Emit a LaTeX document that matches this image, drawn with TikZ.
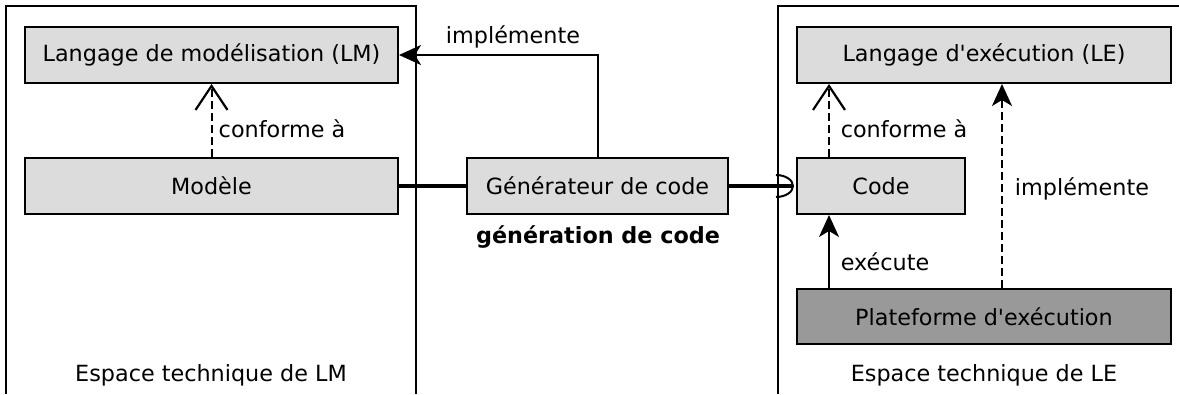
\documentclass[tikz,border=0pt]{standalone}
\usepackage{fontspec}
\setmainfont{DejaVu Sans}
\usetikzlibrary{arrows.meta}
\definecolor{boxgray}{HTML}{DCDCDC}
\definecolor{platgray}{HTML}{999999}
\begin{document}
\begin{tikzpicture}[x=1pt,y=-1pt,
  every node/.style={font=\fontsize{22.3}{26}\selectfont},
  boxnode/.style={draw, line width=2pt, fill=boxgray, minimum height=56pt, inner sep=0pt},
  lbl/.style={anchor=base, inner sep=0pt},
  frameline/.style={line width=2pt},
  conf/.style={line width=2pt, dash pattern=on 8pt off 4pt, -{Straight Barb[length=24pt,width=32pt,line width=2.2pt]}},
  solidarr/.style={line width=2pt, -{Stealth[length=22pt,width=20pt,inset=6pt]}},
  dasharr/.style={line width=2pt, dash pattern=on 8pt off 4pt, -{Stealth[length=22pt,width=20pt,inset=6pt]}},
  thickline/.style={line width=4pt}
]
\useasboundingbox (0,0) rectangle (1179,394);
% frames
\coordinate (lfbl) at (6,394);
\coordinate (lftl) at (6,6);
\coordinate (lftr) at (416,6);
\coordinate (lfbr) at (416,394);
\draw[frameline] (lfbl) -- (lftl) -- (lftr) -- (lfbr);
\coordinate (rfbl) at (778,394);
\coordinate (rftl) at (778,6);
\coordinate (rftr) at (1179,6);
\draw[frameline] (rfbl) -- (rftl) -- (rftr);
% boxes
\node[boxnode, minimum width=373pt] (lm) at (211.5,55) {Langage de modélisation (LM)};
\node[boxnode, minimum width=373pt] (mod) at (211.5,186) {Modèle};
\node[boxnode, minimum width=261pt] (gen) at (597.5,186) {Générateur de code};
\node[boxnode, minimum width=374pt] (le) at (984,55) {Langage d\textquotesingle exécution (LE)};
\node[boxnode, minimum width=168pt] (code) at (881,186) {Code};
\node[boxnode, minimum width=374pt, minimum height=55pt, fill=platgray] (plat) at (984,316.5) {Plateforme d\textquotesingle exécution};
% labels
\node[lbl] (l1) at (513,43) {implémente};
\node[lbl] (l2) at (282,137) {conforme à};
\node[lbl] (l3) at (598,243) {\bfseries génération de code};
\node[lbl] (l4) at (211,381) {Espace technique de LM};
\node[lbl] (l5) at (904,137) {conforme à};
\node[lbl] (l6) at (1082,195) {implémente};
\node[lbl] (l7) at (885,270) {exécute};
\node[lbl] (l8) at (984,381) {Espace technique de LE};
% connectors
\draw[conf] (mod.north) -- (lm.south);
\draw[solidarr] (gen.north) |- (lm.east);
\draw[thickline] (mod.east) -- (gen.west);
\draw[thickline, -{Arc Barb[length=18pt,width=24pt,line width=2pt]}, shorten >=2pt] (gen.east) -- (code.west);
\draw[conf] (code.north -| plat.west) ++(33,0) coordinate (cn) -- (cn |- le.south);
\draw[dasharr] (plat.north) ++(18,0) coordinate (pn) -- (pn |- le.south);
\draw[solidarr] (plat.north -| cn) coordinate (pe) -- (pe |- code.south);
\end{tikzpicture}
\end{document}
